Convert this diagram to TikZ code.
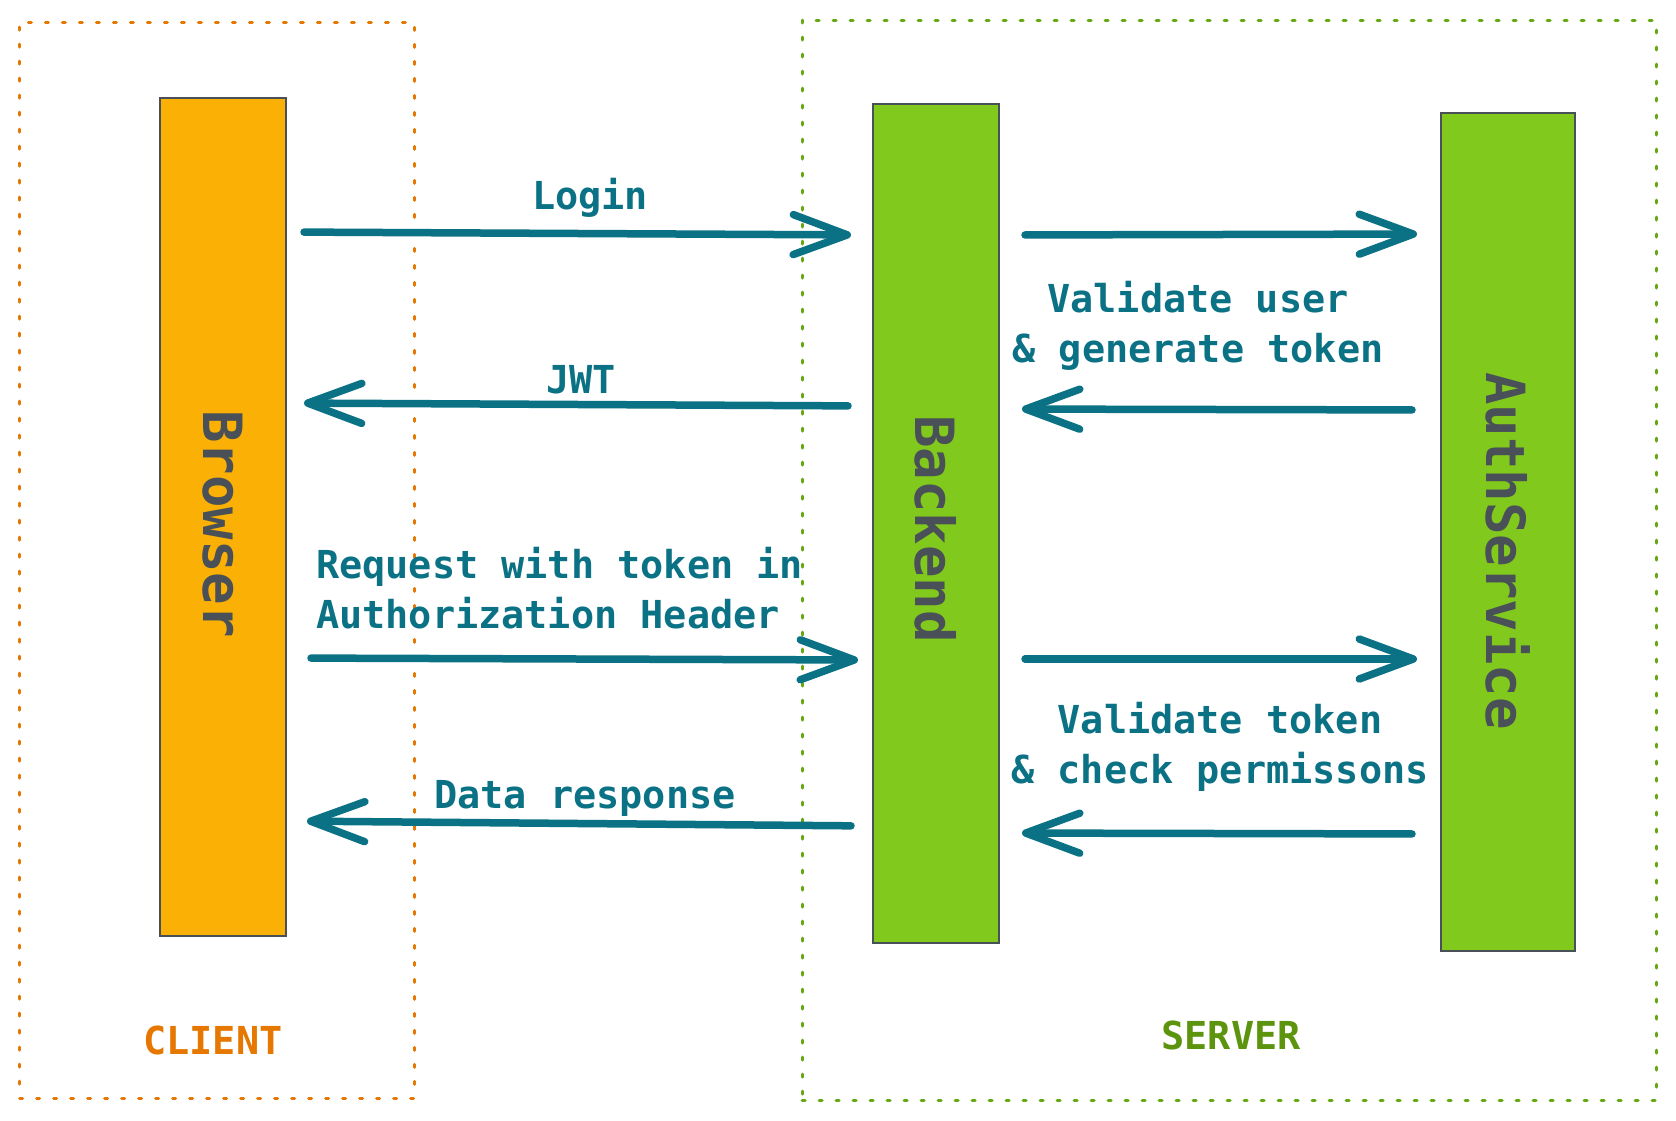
\documentclass[tikz,border=0pt]{standalone}
\usepackage{fontspec}
\setmonofont{DejaVu Sans Mono}
\usetikzlibrary{arrows.meta}
\definecolor{arrowc}{HTML}{0B7285}
\definecolor{boxborder}{HTML}{495057}
\definecolor{yellowfill}{HTML}{FAB005}
\definecolor{limefill}{HTML}{82C91E}
\definecolor{clientc}{HTML}{E67700}
\definecolor{serverc}{HTML}{5C940D}
\definecolor{serverdot}{HTML}{66A80F}
\begin{document}
\begin{tikzpicture}[x=1pt,y=-1pt,
  lifeline/.style={draw=boxborder, line width=2pt, inner sep=0pt, outer sep=0pt},
  groupbox/.style={line width=3pt, dash pattern=on 3pt off 14pt, line cap=round, inner sep=0pt, outer sep=0pt},
  msg/.style={draw=arrowc, line width=7.5pt, line cap=round, -{Straight Barb[length=54pt,width=40pt,round]}},
  msglabel/.style={text=arrowc, font=\ttfamily\bfseries\fontsize{38.5}{50}\selectfont, inner sep=0pt},
  lifelabel/.style={text=boxborder, rotate=-90, font=\ttfamily\bfseries\fontsize{54}{60}\selectfont, inner sep=0pt},
  grouplabel/.style={font=\ttfamily\bfseries\fontsize{38.5}{46}\selectfont, inner sep=0pt}
]
\useasboundingbox (0,0) rectangle (1676,1120);
\fill[white] (0,0) rectangle (1676,1120);

% groups
\node[groupbox, draw=clientc, minimum width=394.4pt, minimum height=1076pt] (client) at (216.8,560) {};
\node[groupbox, draw=serverdot, minimum width=854pt, minimum height=1080pt] (server) at (1229,560) {};
\node[grouplabel, text=clientc] (clientlbl) at (213,1040) {CLIENT};
\node[grouplabel, text=serverc] (serverlbl) at (1231,1035) {SERVER};

% lifelines
\node[lifeline, fill=yellowfill, minimum width=126pt, minimum height=838pt] (browser) at (223,517) {};
\node[lifeline, fill=limefill, minimum width=126pt, minimum height=839pt] (backend) at (936,523.5) {};
\node[lifeline, fill=limefill, minimum width=134pt, minimum height=838pt] (auth) at (1508,532) {};
\node[lifelabel] (browserlbl) at (223,524) {Browser};
\node[lifelabel] (backendlbl) at (936,529) {Backend};
\node[lifelabel] (authlbl) at (1508,551) {AuthService};

% messages
\draw[msg, shorten <=18pt, shorten >=22pt] (browser.east |- 0,232) -- (backend.west |- 0,235);
\node[msglabel, anchor=base] (loginlbl) at (590,209) {Login};

\draw[msg, shorten <=25pt, shorten >=18pt] (backend.west |- 0,406) -- (browser.east |- 0,403);
\node[msglabel, anchor=base] (jwtlbl) at (581,393) {JWT};

\draw[msg, shorten <=26pt, shorten >=24pt] (backend.east |- 0,235) -- (auth.west |- 0,234);
\node[msglabel, anchor=north, align=center] (vuserlbl) at (1198,281) {Validate user\\\& generate token};
\draw[msg, shorten <=29pt, shorten >=23pt] (auth.west |- 0,410) -- (backend.east |- 0,409);

\draw[msg, shorten <=25pt, shorten >=15pt] (browser.east |- 0,658) -- (backend.west |- 0,660);
\node[msglabel, anchor=north west, align=left] (reqlbl) at (316,547) {Request with token in\\Authorization Header};

\draw[msg, shorten <=22pt, shorten >=21pt] (backend.west |- 0,826) -- (browser.east |- 0,821);
\node[msglabel, anchor=base] (datalbl) at (585,808) {Data response};

\draw[msg, shorten <=26pt, shorten >=24pt] (backend.east |- 0,659) -- (auth.west |- 0,659);
\node[msglabel, anchor=north, align=center] (vtokenlbl) at (1220,702) {Validate token\\\& check permissons};
\draw[msg, shorten <=29pt, shorten >=23pt] (auth.west |- 0,834) -- (backend.east |- 0,833);
\end{tikzpicture}
\end{document}
